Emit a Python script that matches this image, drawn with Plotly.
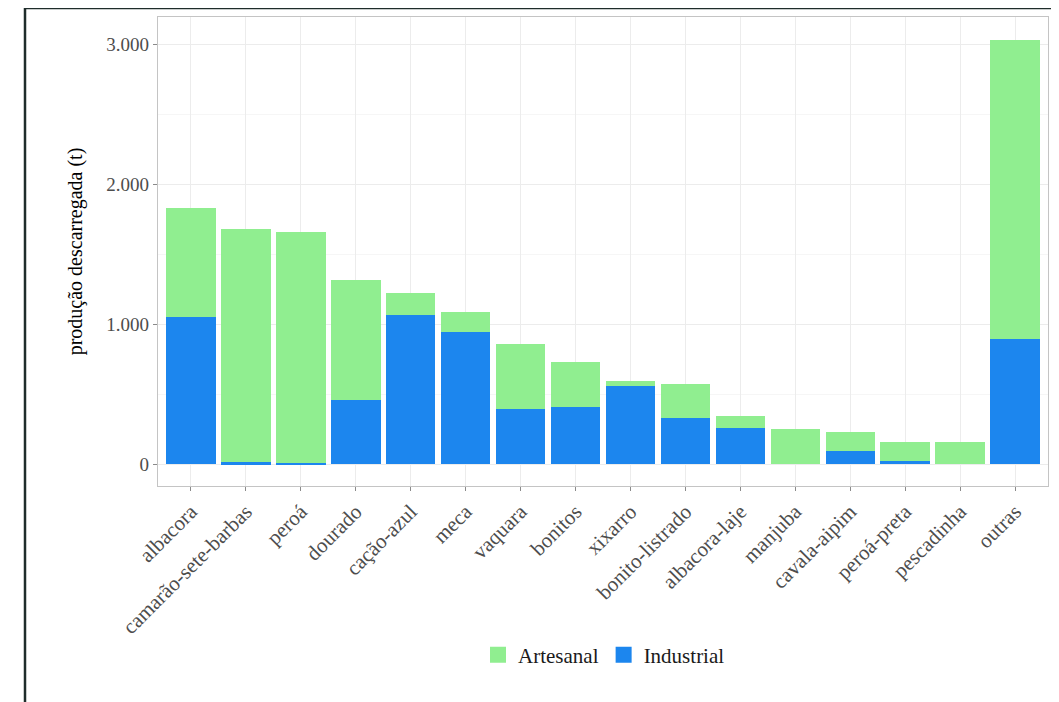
import plotly.graph_objects as go

categories = ["albacora", "camarão-sete-barbas", "peroá", "dourado", "cação-azul", "meca",
              "vaquara", "bonitos", "xixarro", "bonito-listrado", "albacora-laje", "manjuba",
              "cavala-aipim", "peroá-preta", "pescadinha", "outras"]
total = [1826, 1679, 1659, 1314, 1219, 1083, 857, 731, 593, 574, 343, 248, 226, 159, 157, 3029]
industrial = [1048, 12, 5, 459, 1064, 940, 391, 405, 557, 329, 255, 0, 93, 19, 0, 893]
artesanal = [t - i for t, i in zip(total, industrial)]

y_ticks = [0, 1000, 2000, 3000]
y_tick_labels = ["0", "1.000", "2.000", "3.000"]
y_minor = [500, 1500, 2500]

FONT = "Liberation Serif"
GREEN = "#90EE90"
BLUE = "#1C86EE"

fig = go.Figure()
fig.add_trace(go.Bar(x=categories, y=industrial, name="Industrial", showlegend=False,
                     marker=dict(color=BLUE, line=dict(width=0))))
fig.add_trace(go.Bar(x=categories, y=artesanal, name="Artesanal", showlegend=False,
                     marker=dict(color=GREEN, line=dict(width=0))))
# legend entries with larger square keys
fig.add_trace(go.Scatter(x=[None], y=[None], mode="markers", name="Artesanal",
                         marker=dict(symbol="square", size=20, color=GREEN)))
fig.add_trace(go.Scatter(x=[None], y=[None], mode="markers", name="Industrial",
                         marker=dict(symbol="square", size=20, color=BLUE)))

# page body adds an 8px offset; positions below are target pixels minus 8
OFF = 8
W, H = 1059, 702
L, R, T, B = 158 - OFF, 11 + OFF, 17 - OFF, 216 + OFF
pw, ph = W - L - R, H - T - B

def px(x):
    return (x - OFF - L) / pw

def py(y):
    return (H - B - (y - OFF)) / ph

fig.update_layout(
    width=W, height=H,
    margin=dict(l=L, r=R, t=T, b=B, pad=0),
    barmode="stack", bargap=0.1,
    plot_bgcolor="white", paper_bgcolor="white",
    font=dict(family=FONT, color="#4d4d4d", size=19),
    showlegend=True,
    legend=dict(orientation="h", x=px(604), xanchor="center", y=py(655), yanchor="middle",
                traceorder="normal",
                font=dict(family=FONT, size=21, color="#1a1a1a"),
                itemsizing="trace", itemwidth=30, bgcolor="rgba(0,0,0,0)"),
    shapes=[
        dict(type="line", xref="paper", yref="paper", x0=px(25), x1=px(25), y0=py(730), y1=py(8),
             line=dict(color="#1f2d2b", width=2.5)),
        dict(type="line", xref="paper", yref="paper", x0=px(24), x1=px(1075), y0=py(8), y1=py(8),
             line=dict(color="#1f2d2b", width=2.5)),
    ],
)

fig.update_xaxes(
    range=[-0.6, len(categories) - 0.4],
    tickangle=-45,
    tickfont=dict(family=FONT, size=21, color="#4d4d4d"),
    showgrid=True, gridcolor="#ececec", gridwidth=1,
    ticks="outside", ticklen=4, tickcolor="#8a8a8a",
    showline=True, linecolor="#c4c4c4", linewidth=1.2, mirror=True,
    zeroline=False,
)
fig.update_yaxes(
    range=[-157, 3193],
    tickmode="array", tickvals=y_ticks, ticktext=y_tick_labels,
    tickfont=dict(family=FONT, size=19, color="#4d4d4d"),
    showgrid=True, gridcolor="#ececec", gridwidth=1,
    minor=dict(tickmode="array", tickvals=y_minor, showgrid=True, gridcolor="#f6f6f6", ticks=""),
    ticks="outside", ticklen=4, tickcolor="#8a8a8a",
    showline=True, linecolor="#c4c4c4", linewidth=1.2, mirror=True,
    zeroline=False,
    title=dict(text="produção descarregada (t)", font=dict(family=FONT, size=20, color="black"),
               standoff=18),
)

fig.write_html("out.html")
